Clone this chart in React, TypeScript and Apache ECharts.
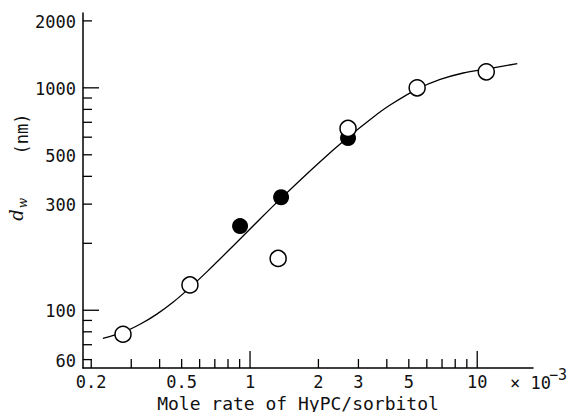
import React, { useEffect, useRef } from "react";
import * as echarts from "echarts";

// Axis ranges (values, log scale)
const X_MIN = 0.184;
const X_MAX = 17.6;
const Y_MIN = 55;
const Y_MAX = 2170;

// Ticks and labels
const xTickMajor = [1, 10];
const xTickMinor = [0.2, 0.3, 0.4, 0.5, 0.6, 0.7, 0.8, 0.9, 2, 3, 4, 5, 6, 7, 8, 9];
const xTickLabels = ["0.2", "0.5", "1", "2", "3", "5", "10"];
const yTickMajor = [100, 1000];
const yTickMinor = [60, 70, 80, 90, 200, 300, 400, 500, 600, 700, 800, 900, 2000];
const yTickLabels = ["60", "100", "300", "500", "1000", "2000"];

// Data: open circles
const openX = [0.276, 0.544, 1.33, 2.7, 5.44, 10.96];
const openY = [78, 130, 171, 657, 1000, 1180];
// Data: filled circles
const filledX = [0.904, 1.37, 2.7];
const filledY = [239, 322, 595];
// Fitted curve
const curveX = [0.225, 0.276, 0.328, 0.389, 0.458, 0.544, 0.647, 0.842, 1.107, 1.369, 1.973, 2.675, 3.483, 4.137, 5.441, 6.871, 8.678, 11.07, 15.01];
const curveY = [74.8, 79.6, 86.5, 96.1, 108.6, 126.4, 149.2, 194.4, 257.3, 318.5, 452.4, 594.6, 737.9, 836.7, 986.6, 1091, 1166, 1218, 1284];

const MONO = "'DejaVu Sans Mono', monospace";
const INK = "#111";

export default function App() {
  const ref = useRef<HTMLDivElement>(null);

  useEffect(() => {
    if (!ref.current) return;
    const chart = echarts.init(ref.current, undefined, { renderer: "svg" });

    const xTickData = xTickMajor.map((v) => [v, Y_MIN, 17]).concat(xTickMinor.map((v) => [v, Y_MIN, 9]));
    const yTickData = yTickMajor.map((v) => [X_MIN, v, 16]).concat(yTickMinor.map((v) => [X_MIN, v, 9]));
    const xLabelData = xTickLabels.map((s) => [parseFloat(s), Y_MIN]);
    const yLabelData = yTickLabels.map((s) => [X_MIN, parseFloat(s)]);

    const option: any = {
      animation: false,
      backgroundColor: "#fff",
      grid: { left: 83, right: 46, top: 13, bottom: 44 },
      xAxis: {
        type: "log",
        logBase: 10,
        min: X_MIN,
        max: X_MAX,
        axisLine: { show: true, lineStyle: { color: "#000", width: 1.5 } },
        axisTick: { show: false },
        axisLabel: { show: false },
        splitLine: { show: false },
        minorTick: { show: false },
      },
      yAxis: {
        type: "log",
        logBase: 10,
        min: Y_MIN,
        max: Y_MAX,
        axisLine: { show: true, lineStyle: { color: "#000", width: 1.5 } },
        axisTick: { show: false },
        axisLabel: { show: false },
        splitLine: { show: false },
        minorTick: { show: false },
      },
      graphic: [
        {
          type: "text",
          x: 298,
          y: 403,
          style: { text: "Mole rate of HyPC/sorbitol", fill: INK, font: `18px ${MONO}`, align: "center", verticalAlign: "middle" },
        },
        {
          type: "text",
          x: 510,
          y: 383,
          style: { text: "× 10", fill: INK, font: `17px ${MONO}`, align: "left", verticalAlign: "middle" },
        },
        {
          type: "text",
          x: 549,
          y: 375,
          style: { text: "−3", fill: INK, font: `15px ${MONO}`, align: "left", verticalAlign: "middle" },
        },
        {
          type: "text",
          x: 22,
          y: 134,
          rotation: Math.PI / 2,
          style: { text: "(nm)", fill: INK, font: `17px ${MONO}`, align: "center", verticalAlign: "middle" },
        },
        {
          type: "text",
          x: 16,
          y: 215,
          rotation: Math.PI / 2,
          style: { text: "d", fill: INK, font: `italic 18px 'DejaVu Serif', serif`, align: "center", verticalAlign: "middle" },
        },
        {
          type: "text",
          x: 23,
          y: 203,
          rotation: Math.PI / 2,
          style: { text: "w", fill: INK, font: `italic 12px 'DejaVu Serif', serif`, align: "center", verticalAlign: "middle" },
        },
      ],
      series: [
        {
          type: "line",
          data: curveX.map((x, i) => [x, curveY[i]]),
          smooth: 0.3,
          showSymbol: false,
          lineStyle: { color: "#000", width: 1.3 },
          z: 2,
          silent: true,
        },
        {
          type: "scatter",
          data: filledX.map((x, i) => [x, filledY[i]]),
          symbol: "circle",
          symbolSize: 16,
          itemStyle: { color: "#000", opacity: 1 },
          z: 3,
        },
        {
          type: "scatter",
          data: openX.map((x, i) => [x, openY[i]]),
          symbol: "circle",
          symbolSize: 16,
          itemStyle: { color: "#fff", borderColor: "#000", borderWidth: 1.5, opacity: 1 },
          z: 4,
        },
        {
          type: "custom",
          coordinateSystem: "cartesian2d",
          data: xTickData,
          encode: { x: 0, y: 1 },
          clip: false,
          silent: true,
          z: 5,
          renderItem: (params: any, api: any) => {
            const p = api.coord([api.value(0), api.value(1)]);
            const len = api.value(2);
            return {
              type: "line",
              shape: { x1: p[0], y1: p[1], x2: p[0], y2: p[1] - len },
              style: { stroke: "#000", lineWidth: 1.3 },
            };
          },
        },
        {
          type: "custom",
          coordinateSystem: "cartesian2d",
          data: yTickData,
          encode: { x: 0, y: 1 },
          clip: false,
          silent: true,
          z: 5,
          renderItem: (params: any, api: any) => {
            const p = api.coord([api.value(0), api.value(1)]);
            const len = api.value(2);
            return {
              type: "line",
              shape: { x1: p[0], y1: p[1], x2: p[0] + len, y2: p[1] },
              style: { stroke: "#000", lineWidth: 1.3 },
            };
          },
        },
        {
          type: "custom",
          coordinateSystem: "cartesian2d",
          data: xLabelData,
          encode: { x: 0, y: 1 },
          clip: false,
          silent: true,
          z: 5,
          renderItem: (params: any, api: any) => {
            const p = api.coord([api.value(0), api.value(1)]);
            const s = xTickLabels[params.dataIndex];
            return {
              type: "text",
              x: p[0],
              y: p[1] + 14,
              style: { text: s, fill: INK, font: `17px ${MONO}`, align: "center", verticalAlign: "middle" },
            };
          },
        },
        {
          type: "custom",
          coordinateSystem: "cartesian2d",
          data: yLabelData,
          encode: { x: 0, y: 1 },
          clip: false,
          silent: true,
          z: 5,
          renderItem: (params: any, api: any) => {
            const p = api.coord([api.value(0), api.value(1)]);
            const s = yTickLabels[params.dataIndex];
            return {
              type: "text",
              x: p[0] - 7,
              y: p[1] + 1,
              style: { text: s, fill: INK, font: `17px ${MONO}`, align: "right", verticalAlign: "middle" },
            };
          },
        },
      ],
    };

    chart.setOption(option);
    return () => chart.dispose();
  }, []);

  return (
    <div
      ref={ref}
      style={{ position: "fixed", left: 0, top: 0, width: 579, height: 412, background: "#fff" }}
    />
  );
}
